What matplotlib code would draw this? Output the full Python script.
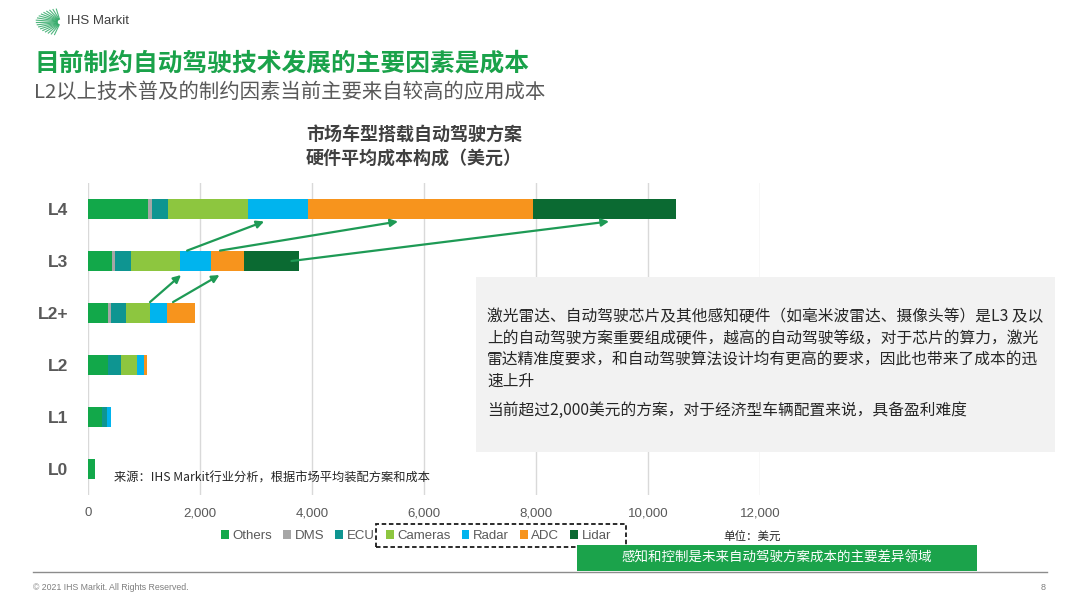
import numpy as np
import matplotlib
matplotlib.use("Agg")
import matplotlib.pyplot as plt
from matplotlib.patches import Rectangle
from matplotlib.lines import Line2D

# ---------------- data ----------------
levels = ['L0', 'L1', 'L2', 'L2+', 'L3', 'L4']
components = ['Others', 'DMS', 'ECU', 'Cameras', 'Radar', 'ADC', 'Lidar']
others = [120, 245, 355, 350, 420, 1070]
dms = [0, 0, 0, 60, 60, 65]
ecu = [0, 100, 240, 265, 285, 300]
cameras = [0, 0, 280, 430, 870, 1420]
radar = [0, 65, 120, 310, 565, 1080]
adc = [0, 0, 60, 500, 585, 4010]
lidar = [0, 0, 0, 0, 985, 2550]
xticks = [0, 2000, 4000, 6000, 8000, 10000, 12000]
xtick_labels = ['0', '2,000', '4,000', '6,000', '8,000', '10,000', '12,000']

colors = ['#12A84A', '#A6A6A6', '#0E9591', '#8DC63F', '#00B4EE', '#F7941D', '#0B6A32']

CJK = ['Noto Sans CJK SC', 'DejaVu Sans']
LAT = ['Liberation Sans', 'Noto Sans CJK SC', 'DejaVu Sans']
plt.rcParams['font.family'] = CJK

W, H = 1080, 603
fig = plt.figure(figsize=(W / 100, H / 100), dpi=100)
fig.patch.set_facecolor('white')

def fx(px):
    return px / W

def fy(py):
    return 1 - py / H

# ---------------- axes ----------------
ax = fig.add_axes([fx(88), fy(495), fx(760) - fx(88), fy(183) - fy(495)])
series = [others, dms, ecu, cameras, radar, adc, lidar]
y = np.arange(len(levels))
left = np.zeros(len(levels))
handles = []
for name, vals, c in zip(components, series, colors):
    b = ax.barh(y, vals, left=left, height=0.4, color=c, label=name, zorder=3)
    handles.append(b)
    left += np.array(vals)

ax.set_xlim(0, 12000)
ax.set_ylim(-0.5, 5.5)
ax.set_xticks(xticks)
ax.set_xticklabels(xtick_labels, family=LAT, fontsize=9.5, color='#595959')
ax.set_yticks(y)
ax.set_yticklabels(levels, family=LAT, fontsize=12.5, fontweight='bold', color='#595959')
ax.tick_params(axis='both', length=0)
ax.tick_params(axis='x', pad=9)
ax.tick_params(axis='y', pad=14)
for s in ax.spines.values():
    s.set_visible(False)
ax.grid(axis='x', color='#D9D9D9', lw=1, zorder=0)
ax.set_axisbelow(True)

# arrows (annotation positions in data units)
arrow_kw = dict(arrowstyle='-|>', color='#1E9A55', lw=1.6, mutation_scale=11, shrinkA=0, shrinkB=0)
arrows = [((1770, 4.2), (3145, 4.76)),
          ((2357, 4.2), (5536, 4.76)),
          ((3634, 4.0), (9304, 4.76)),
          ((1107, 3.21), (1661, 3.73)),
          ((1518, 3.21), (2348, 3.73))]
for (x0, y0), (x1, y1) in arrows:
    ax.annotate('', xy=(x1, y1), xytext=(x0, y0), arrowprops=arrow_kw, zorder=5)

# ---------------- header ----------------
# logo fan (rays from the right-hand side, fanning left)
cx, cy = 60, 22
for i, ang in enumerate(np.linspace(100, 255, 18)):
    r = 24 - 3 * abs(np.sin(np.deg2rad(ang - 175)))
    a = np.deg2rad(ang)
    fig.add_artist(Line2D([fx(cx + 3 * np.cos(a)), fx(cx + r * np.cos(a))],
                          [fy(cy - 3 * np.sin(a)), fy(cy - r * np.sin(a) * 0.62)],
                          color='#2FA866', lw=0.8, alpha=0.85))
fig.text(fx(67), fy(21), 'IHS Markit', family=LAT, fontsize=9.5, color='#404040', va='center', ha='left')

fig.text(fx(34), fy(64), '目前制约自动驾驶技术发展的主要因素是成本', fontsize=17.8, fontweight='bold',
         color='#1AA24A', va='center', ha='left')
fig.text(fx(34), fy(92), 'L2以上技术普及的制约因素当前主要来自较高的应用成本', fontsize=14.7,
         color='#595959', va='center', ha='left')

fig.text(fx(306), fy(135), '市场车型搭载自动驾驶方案', fontsize=13, fontweight='bold', color='#404040',
         va='center', ha='left')
fig.text(fx(306), fy(158), '硬件平均成本构成（美元）', fontsize=13, fontweight='bold', color='#404040',
         va='center', ha='left')

# ---------------- text box ----------------
fig.add_artist(Rectangle((fx(476), fy(452)), fx(1055) - fx(476), fy(277) - fy(452),
                         transform=fig.transFigure, facecolor='#F2F2F2', edgecolor='none', zorder=2))
box_lines = ['激光雷达、自动驾驶芯片及其他感知硬件（如毫米波雷达、摄像头等）是L3 及以',
             '上的自动驾驶方案重要组成硬件，越高的自动驾驶等级，对于芯片的算力，激光',
             '雷达精准度要求，和自动驾驶算法设计均有更高的要求，因此也带来了成本的迅',
             '速上升']
for i, t in enumerate(box_lines):
    fig.text(fx(487), fy(317 + i * 21.5), t, fontsize=11.3, color='#262626', va='center', ha='left', zorder=3)
fig.text(fx(487), fy(410), '当前超过2,000美元的方案，对于经济型车辆配置来说，具备盈利难度', fontsize=11.3,
         color='#262626', va='center', ha='left', zorder=3)

# source
fig.text(fx(114), fy(478), '来源：IHS Markit行业分析，根据市场平均装配方案和成本', family=CJK,
         fontsize=8.8, color='#262626', va='center', ha='left', zorder=4)

# ---------------- legend ----------------
leg = fig.legend(handles=handles, labels=components, loc='center', bbox_to_anchor=(fx(416), fy(536)),
                 ncol=7, frameon=False, handlelength=0.6, handleheight=0.6, handletextpad=0.25,
                 columnspacing=0.85, prop={'family': LAT, 'size': 9.5}, labelcolor='#595959',
                 borderpad=0, borderaxespad=0)
fig.add_artist(Rectangle((fx(376), fy(547)), fx(626) - fx(376), fy(524) - fy(547),
                         transform=fig.transFigure, facecolor='none', edgecolor='#1A1A1A',
                         lw=1.3, ls=(0, (2.5, 1.5))))

fig.text(fx(723), fy(536), '单位：美元', fontsize=8.3, color='#262626', va='center', ha='left')

fig.add_artist(Rectangle((fx(577), fy(570.5)), fx(977) - fx(577), fy(545) - fy(570.5),
                         transform=fig.transFigure, facecolor='#1BA34B', edgecolor='none', zorder=3))
fig.text(fx(777), fy(558), '感知和控制是未来自动驾驶方案成本的主要差异领域', fontsize=9.7, color='white',
         va='center', ha='center', zorder=4)

# footer
fig.add_artist(Line2D([fx(33), fx(1047)], [fy(572), fy(572)], color='#8C8C8C', lw=1))
fig.text(fx(33), fy(587), '© 2021 IHS Markit. All Rights Reserved.', family=LAT, fontsize=6.3,
         color='#7F7F7F', va='center', ha='left')
fig.text(fx(1043), fy(588), '8', family=LAT, fontsize=6.5, color='#7F7F7F', va='center', ha='center')

fig.savefig('out.png', dpi=100, facecolor='white')
